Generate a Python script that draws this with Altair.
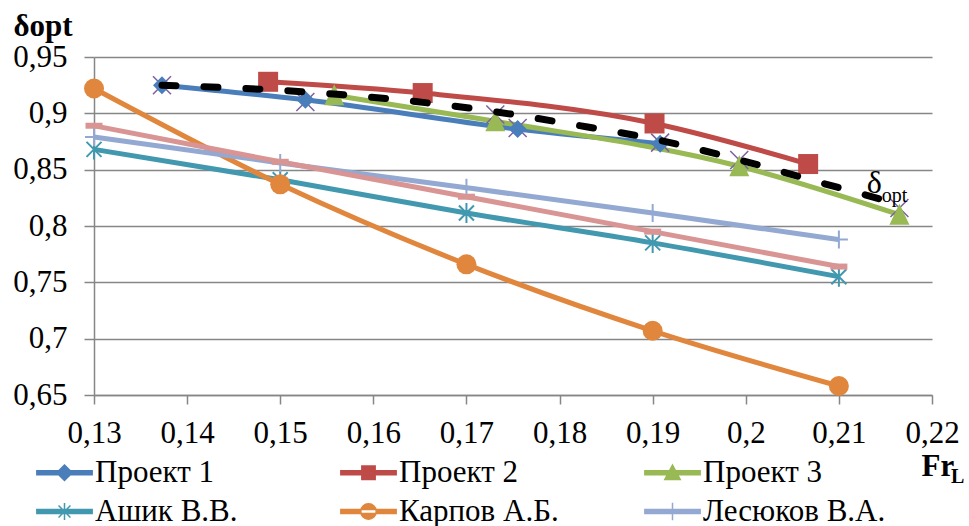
import altair as alt
import pandas as pd

# ---------------- data ----------------
p1_x = [0.1373, 0.1527, 0.1755, 0.1908]
p1_y = [0.925, 0.912, 0.886, 0.873]
p2_x = [0.1487, 0.1653, 0.1902, 0.2067]
p2_y = [0.928, 0.918, 0.891, 0.855]
p3_x = [0.1558, 0.1731, 0.1993, 0.2165]
p3_y = [0.916, 0.893, 0.853, 0.810]
opt_x = [0.1373, 0.1527, 0.1731, 0.1755, 0.1908, 0.1993, 0.2165]
opt_y = [0.925, 0.910, 0.899, 0.887, 0.874, 0.8585, 0.816]
trend_x = [0.1373, 0.1527, 0.1661, 0.1754, 0.1808, 0.1908, 0.1994, 0.2078, 0.2171]
trend_y = [0.925, 0.919, 0.909, 0.8985, 0.891, 0.876, 0.8585, 0.839, 0.818]
fr_x = [0.13, 0.15, 0.17, 0.19, 0.21]
ashik_y = [0.868, 0.841, 0.8115, 0.785, 0.755]
karpov_y = [0.922, 0.837, 0.766, 0.707, 0.658]
lesyukov_y = [0.879, 0.856, 0.834, 0.8115, 0.788]
row8_y = [0.889, 0.857, 0.826, 0.795, 0.764]

x_ticks = [0.13, 0.14, 0.15, 0.16, 0.17, 0.18, 0.19, 0.2, 0.21, 0.22]
y_ticks = [0.65, 0.7, 0.75, 0.8, 0.85, 0.9, 0.95]

legend_names = ["Проект 1", "Проект 2", "Проект 3", "Ашик В.В.", "Карпов А.Б.", "Лесюков В.А."]

FONT = "Liberation Serif"

C_P1 = "#4A7EBB"
C_P2 = "#BE4B48"
C_P3 = "#98B954"
C_OPT = "#7D60A0"
C_ASH = "#4198AF"
C_KAR = "#E0863D"
C_LES = "#93A9D2"
C_R8 = "#D89594"

TRI = "M0,-1.1L1,1H-1Z"
STAR = "M0,-1V1M-0.75,-0.75L0.75,0.75M-0.75,0.75L0.75,-0.75"
PLUS = "M-1,0H1M0,-1V1"
XMARK = "M-1,-1L1,1M-1,1L1,-1"
DASH = "M-1,0H1"

# name, xs, ys, color, has_line, shape, size, filled, marker stroke width
series = [
    ("δopt", opt_x, opt_y, C_OPT, False, XMARK, 324, False, 1.5),
    ("Проект 1", p1_x, p1_y, C_P1, True, "diamond", 324, True, 0),
    ("Проект 2", p2_x, p2_y, C_P2, True, "square", 400, True, 0),
    ("Проект 3", p3_x, p3_y, C_P3, True, TRI, 400, True, 0),
    ("Ашик В.В.", fr_x, ashik_y, C_ASH, True, STAR, 400, False, 2),
    ("Карпов А.Б.", fr_x, karpov_y, C_KAR, True, "circle", 400, True, 0),
    ("Лесюков В.А.", fr_x, lesyukov_y, C_LES, True, PLUS, 324, False, 2),
    ("Ряд 8", fr_x, row8_y, C_R8, True, DASH, 289, False, 6),
]

x_enc = alt.X(
    "x:Q",
    scale=alt.Scale(domain=[0.13, 0.22], nice=False, zero=False),
    axis=alt.Axis(
        values=x_ticks,
        labelExpr="replace(format(datum.value, '.2~f'), '.', ',')",
        labelFlush=False,
        grid=False,
        title="Fr",
        titleX=827,
        titleY=80,
        titleAlign="left",
        titleBaseline="alphabetic",
        titleFont=FONT,
        titleFontSize=31,
        titleFontWeight="bold",
        titleColor="black",
        labelPadding=14,
        tickSize=9,
    ),
)
y_enc = alt.Y(
    "y:Q",
    scale=alt.Scale(domain=[0.65, 0.95], nice=False, zero=False),
    axis=alt.Axis(
        values=y_ticks,
        labelExpr="replace(format(datum.value, '.2~f'), '.', ',')",
        labelFlush=False,
        grid=True,
        title="δopt",
        titleAngle=0,
        titleX=-81,
        titleY=-22,
        titleAlign="left",
        titleBaseline="alphabetic",
        titleFont=FONT,
        titleFontSize=31,
        titleFontWeight="bold",
        titleColor="black",
        labelPadding=17,
        tickSize=10,
    ),
)

frames = {}
for name, xs, ys, *_ in series:
    frames[name] = pd.DataFrame({"x": xs, "y": ys, "series": name})

layers = []
# lines
for name, xs, ys, color, has_line, shape, size, filled, sw in series:
    if has_line:
        layers.append(
            alt.Chart(frames[name])
            .mark_line(color=color, strokeWidth=5, interpolate="monotone")
            .encode(x=x_enc, y=y_enc)
        )
# markers
for name, xs, ys, color, has_line, shape, size, filled, sw in series:
    if filled:
        m = alt.Chart(frames[name]).mark_point(
            shape=shape, size=size, filled=True, color=color, opacity=1, strokeWidth=0
        )
    else:
        m = alt.Chart(frames[name]).mark_point(
            shape=shape, size=size, filled=False, color=color, opacity=1, strokeWidth=sw
        )
    layers.append(m.encode(x=x_enc, y=y_enc))

# dashed trend line (δopt)
trend_df = pd.DataFrame({"x": trend_x, "y": trend_y})
layers.append(
    alt.Chart(trend_df)
    .mark_line(color="black", strokeWidth=7, strokeDash=[14, 28], strokeCap="round",
               interpolate="monotone")
    .encode(x=x_enc, y=y_enc)
)

# annotations
ann_df = pd.DataFrame({"x": [0.2130, 0.2146], "y": [0.8292, 0.8212], "t": ["δ", "opt"],
                       "s": [32, 20]})
layers.append(
    alt.Chart(ann_df)
    .mark_text(font=FONT, align="left", baseline="alphabetic", color="black")
    .encode(x=x_enc, y=y_enc, text="t:N", size=alt.Size("s:Q", scale=None, legend=None))
)
sub_df = pd.DataFrame({"t": ["L"]})
layers.append(
    alt.Chart(sub_df)
    .mark_text(font=FONT, fontSize=20, fontWeight="bold", align="left",
               baseline="alphabetic", color="black")
    .encode(text="t:N", x=alt.value(857), y=alt.value(426))
)

# legend (line + marker symbols)
LINE = "M-3.95,-0.27H3.95V0.27H-3.95Z"
legend_paths = [
    LINE + "M0,-1.1L1.1,0L0,1.1L-1.1,0Z",
    LINE + "M-0.95,-0.95H0.95V0.95H-0.95Z",
    LINE + "M0,-1.1L1.1,0.95H-1.1Z",
    LINE + "M0,-1.2V1.2M-0.85,-0.85L0.85,0.85M-0.85,0.85L0.85,-0.85",
    LINE + "M-1.1,0A1.1,1.1 0 1,0 1.1,0A1.1,1.1 0 1,0 -1.1,0Z",
    LINE + "M0,-1.25V1.25",
]
legend_colors = [C_P1, C_P2, C_P3, C_ASH, C_KAR, C_LES]
leg_df = pd.DataFrame({"x": [0.15] * 6, "y": [0.8] * 6, "series": legend_names})
leg = alt.Legend(
    title=None, orient="none", legendX=-45, legendY=400, direction="horizontal",
    columns=3, gridAlign="all", columnPadding=59, rowPadding=7,
    symbolSize=196, symbolStrokeWidth=1.5, symbolOpacity=1,
    labelFont=FONT, labelFontSize=31, labelColor="black", labelOffset=15, labelLimit=500,
)
layers.append(
    alt.Chart(leg_df)
    .transform_filter("false")
    .mark_point(filled=True, opacity=1)
    .encode(
        x=x_enc, y=y_enc,
        color=alt.Color("series:N", scale=alt.Scale(domain=legend_names, range=legend_colors), legend=leg),
        stroke=alt.Stroke("series:N", scale=alt.Scale(domain=legend_names, range=legend_colors), legend=leg),
        shape=alt.Shape("series:N", scale=alt.Scale(domain=legend_names, range=legend_paths), legend=leg),
    )
)

chart = (
    alt.layer(*layers)
    .properties(
        width=838, height=338,
        padding={"left": 94, "top": 57, "right": 37, "bottom": 131},
        autosize=alt.AutoSizeParams(type="none"),
        background="white",
    )
    .configure_view(stroke=None)
    .configure_axis(
        labelFont=FONT, labelFontSize=31, labelColor="black",
        domainColor="#868686", domainWidth=1.5,
        tickColor="#868686", tickWidth=1.5,
        gridColor="#868686", gridWidth=1.5,
    )
)

chart.save("out.html", embed_options={"renderer": "svg", "actions": False})
